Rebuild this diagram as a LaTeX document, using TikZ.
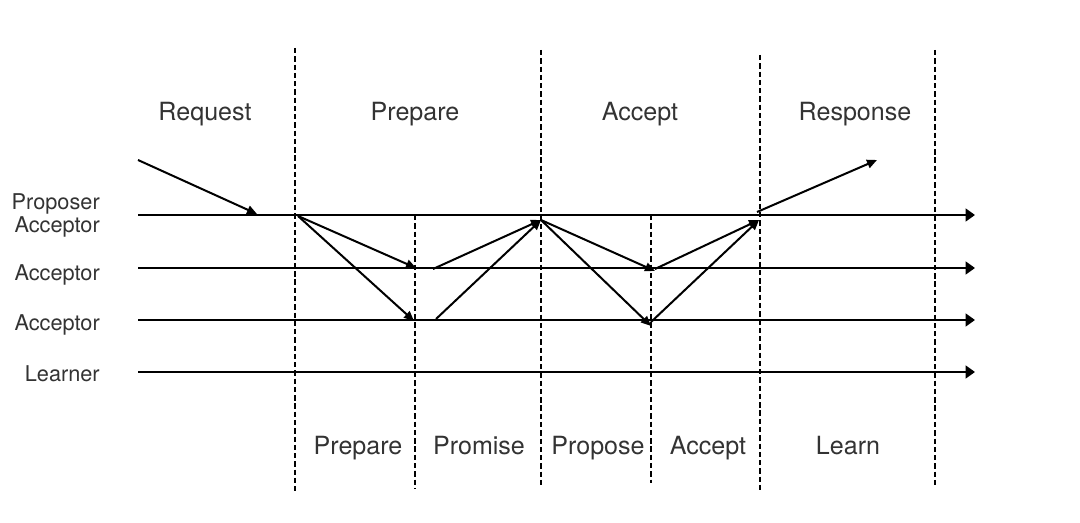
\documentclass[tikz,border=0pt]{standalone}
\usepackage{fontspec}
\setmainfont{TeX Gyre Heros}
\usetikzlibrary{arrows.meta}
\begin{document}
\begin{tikzpicture}[x=0.75pt,y=-0.75pt,
  lifeline/.style={line width=1.7pt,-{Triangle[length=7pt,width=9.5pt]}},
  msg/.style={line width=1.5pt,-{Triangle[length=7.5pt,width=6.5pt]}},
  phase/.style={line width=1.2pt,dash pattern=on 4pt off 2.2pt},
  lbl/.style={font=\fontsize{18.8}{22}\selectfont,text=black!80,inner sep=0pt,anchor=base},
  role/.style={font=\fontsize{16.3}{17.3}\selectfont,text=black!80,inner sep=0pt,anchor=base east,align=right}]
\useasboundingbox (0,0) rectangle (1080,523);
% lifeline coordinates
\coordinate (l1s) at (138,215); \coordinate (l1e) at (975,215);
\coordinate (l2s) at (138,268); \coordinate (l2e) at (975,268);
\coordinate (l3s) at (138,320); \coordinate (l3e) at (975,320);
\coordinate (l4s) at (138,372); \coordinate (l4e) at (975,372);
\draw[lifeline] (l1s) -- (l1e);
\draw[lifeline] (l2s) -- (l2e);
\draw[lifeline] (l3s) -- (l3e);
\draw[lifeline] (l4s) -- (l4e);
% phase separators
\coordinate (d1t) at (295,48);  \coordinate (d1b) at (295,492);
\coordinate (d2t) at (415,215); \coordinate (d2b) at (415,488);
\coordinate (d3t) at (541,50);  \coordinate (d3b) at (541,488);
\coordinate (d4t) at (651,215); \coordinate (d4b) at (651,483);
\coordinate (d5t) at (760,55);  \coordinate (d5b) at (760,492);
\coordinate (d6t) at (935,50);  \coordinate (d6b) at (935,488);
\foreach \i in {1,...,6} {\draw[phase] (d\i t) -- (d\i b);}
% role labels
\node[role] (r1) at (100,233) {Proposer\\Acceptor};
\node[role] (r2) at (100,281) {Acceptor};
\node[role] (r3) at (100,331) {Acceptor};
\node[role] (r4) at (100,382) {Learner};
% phase labels
\node[lbl] (tReq) at (205,121) {Request};
\node[lbl] (tPre) at (415,121) {Prepare};
\node[lbl] (tAcc) at (640,121) {Accept};
\node[lbl] (tRes) at (855,121) {Response};
\node[lbl] (bPre) at (358,454) {Prepare};
\node[lbl] (bPro) at (479,454) {Promise};
\node[lbl] (bPrp) at (598,454) {Propose};
\node[lbl] (bAcc) at (708,454) {Accept};
\node[lbl] (bLea) at (848,454) {Learn};
% message coordinates
\coordinate (reqS) at (138,160); \coordinate (reqE) at (257,214);
\coordinate (pA) at (298,216);
\coordinate (a2) at (416,268); \coordinate (a3) at (414,321);
\coordinate (b2) at (433,269); \coordinate (b3) at (436,319);
\coordinate (pB) at (541,220);
\coordinate (c2) at (655,271); \coordinate (c3) at (651,326);
\coordinate (e2) at (655,269); \coordinate (e3) at (651,322);
\coordinate (pC) at (759,220);
\coordinate (resS) at (757,212); \coordinate (resE) at (877,160);
\draw[msg] (reqS) -- (reqE);
\draw[msg] (pA) -- (a2);
\draw[msg] (pA) -- (a3);
\draw[msg] (b2) -- (pB);
\draw[msg] (b3) -- (pB);
\draw[msg] (pB) -- (c2);
\draw[msg] (pB) -- (c3);
\draw[msg] (e2) -- (pC);
\draw[msg] (e3) -- (pC);
\draw[msg] (resS) -- (resE);
\end{tikzpicture}
\end{document}
